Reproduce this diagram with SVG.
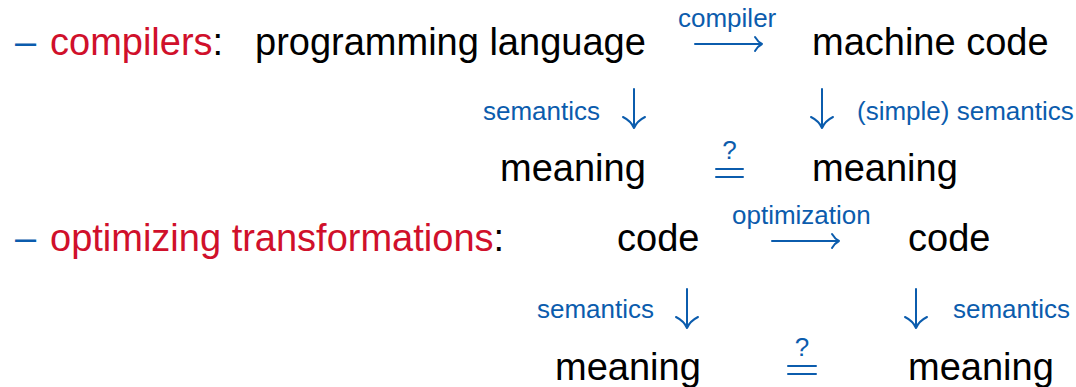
<svg xmlns="http://www.w3.org/2000/svg" width="1076" height="387" viewBox="0 0 1076 387">
  <style>
    text { font-family: "Liberation Sans", Arial, Helvetica, sans-serif; }
    .big { font-size: 38px; fill: #000; }
    .lbl { font-size: 26px; fill: #0b5cad; }
    .red { fill: #d0102b; }
    .blue { fill: #0b5cad; }
    .arr { fill: none; stroke: #0b5cad; stroke-width: 2; stroke-linecap: round; stroke-linejoin: round; }
  </style>
  <rect width="1076" height="387" fill="#fff"/>

  <!-- bullet: compilers -->
  <g id="item-compilers">
    <text class="big blue" x="15" y="55">–</text>
    <text class="big" x="50" y="55"><tspan class="red">compilers</tspan>:</text>
  </g>
  <g id="node-prog-lang"><text class="big" x="255" y="55">programming language</text></g>
  <g id="node-machine-code"><text class="big" x="812" y="55">machine code</text></g>
  <g id="node-meaning-1a"><text class="big" x="500" y="181">meaning</text></g>
  <g id="node-meaning-1b"><text class="big" x="812" y="181">meaning</text></g>

  <!-- bullet: optimizing transformations -->
  <g id="item-optimizing">
    <text class="big blue" x="15" y="251">–</text>
    <text class="big" x="50" y="251"><tspan class="red">optimizing transformations</tspan>:</text>
  </g>
  <g id="node-code-a"><text class="big" x="617" y="251">code</text></g>
  <g id="node-code-b"><text class="big" x="908" y="251">code</text></g>
  <g id="node-meaning-2a"><text class="big" x="555" y="380">meaning</text></g>
  <g id="node-meaning-2b"><text class="big" x="908" y="380">meaning</text></g>

  <g id="connectors">
    <!-- compiler arrow -->
    <path class="arr" d="M695 44 H762 M755 37 Q758 42 762 44 Q758 46 755 51"/>
    <text class="lbl" x="678" y="27">compiler</text>
    <!-- semantics arrows, first diagram -->
    <path class="arr" d="M634 89 V128 M623 117 Q631 121 634 128 Q637 121 645 117"/>
    <text class="lbl" x="483" y="120">semantics</text>
    <path class="arr" d="M822 89 V128 M811 117 Q819 121 822 128 Q825 121 833 117"/>
    <text class="lbl" x="857" y="120">(simple) semantics</text>
    <!-- equality test, first diagram -->
    <path class="arr" d="M716 169 H743 M716 177 H743"/>
    <text class="lbl" x="729.5" y="159" text-anchor="middle" font-size="24">?</text>

    <!-- optimization arrow -->
    <path class="arr" d="M772 241 H839 M832 234 Q835 239 839 241 Q835 243 832 248"/>
    <text class="lbl" x="732" y="224">optimization</text>
    <!-- semantics arrows, second diagram -->
    <path class="arr" d="M687 289 V328 M676 317 Q684 321 687 328 Q690 321 698 317"/>
    <text class="lbl" x="537" y="318">semantics</text>
    <path class="arr" d="M916 289 V328 M905 317 Q913 321 916 328 Q919 321 927 317"/>
    <text class="lbl" x="953" y="318">semantics</text>
    <!-- equality test, second diagram -->
    <path class="arr" d="M788 366 H816 M788 374 H816"/>
    <text class="lbl" x="802" y="356" text-anchor="middle" font-size="24">?</text>
  </g>
</svg>
